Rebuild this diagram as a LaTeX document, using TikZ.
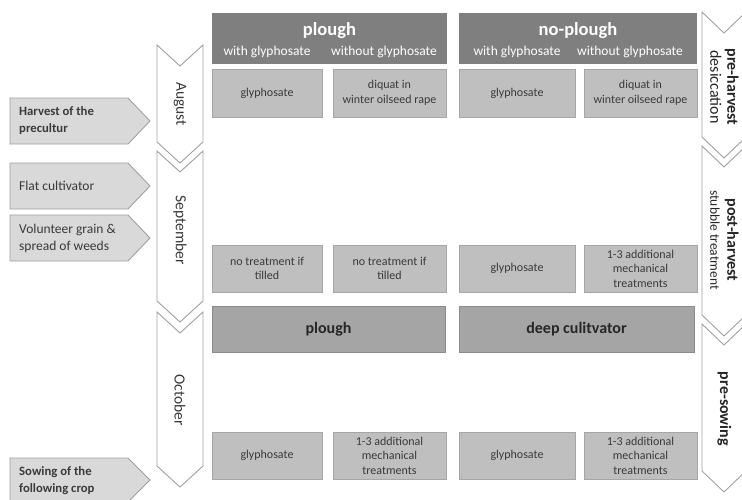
\documentclass[tikz,border=0pt]{standalone}
\usepackage{fontspec}
\setmainfont{Carlito}
\usepackage{tikz}
\usetikzlibrary{calc}
\usepackage{xcolor}

\definecolor{headgrey}{HTML}{7F7F7F}
\definecolor{boxgrey}{HTML}{BFBFBF}
\definecolor{boxline}{HTML}{A6A6A6}
\definecolor{midgrey}{HTML}{A5A5A5}
\definecolor{midline}{HTML}{8C8C8C}
\definecolor{flaggrey}{HTML}{D9D9D9}
\definecolor{linegrey}{HTML}{A0A0A0}
\definecolor{textgrey}{HTML}{3A3A3A}
\definecolor{darktext}{HTML}{262626}

% chevron: x left, x right, y top, y bottom of the sides, depth of the point
\newcommand{\chevron}[5]{%
  \draw[chevronline] (#1,#3) -- ({(#1+#2)/2},{#3+#5}) -- (#2,#3) -- (#2,#4)
    -- ({(#1+#2)/2},{#4+#5}) -- (#1,#4) -- cycle;}
% flag pointing right: y top, y bottom
\newcommand{\stageflag}[2]{%
  \draw[flagline] (10,#1) -- (128,#1) -- (150,{(#1+#2)/2}) -- (128,#2) -- (10,#2) -- cycle;}

\begin{document}
\begin{tikzpicture}[x=1pt,y=-1pt,
head/.style={fill=headgrey,inner sep=0pt,minimum height=51pt},
headtitle/.style={text=white,font=\bfseries\fontsize{18.5}{20}\selectfont},
headsub/.style={text=white,font=\fontsize{13.5}{15}\selectfont},
cell/.style={draw=boxline,fill=boxgrey,text=textgrey,inner sep=0pt,align=center,
  minimum height=47pt,font=\fontsize{12}{14.6}\selectfont},
midcell/.style={draw=midline,fill=midgrey,text=darktext,inner sep=0pt,
  minimum height=46pt,font=\bfseries\fontsize{16}{19}\selectfont},
chevronline/.style={draw=linegrey,fill=white,line width=0.9pt},
flagline/.style={draw=linegrey,fill=flaggrey,line width=0.9pt},
flagtext/.style={anchor=west,align=left,text=textgrey,inner sep=0pt,
  font=\fontsize{13.5}{17}\selectfont},
flagbold/.style={flagtext,font=\bfseries\fontsize{12.7}{17}\selectfont},
month/.style={rotate=-90,text=textgrey,font=\fontsize{15.5}{18}\selectfont},
phase/.style={rotate=-90,align=center,text=darktext,font=\fontsize{16}{17}\selectfont}]
\useasboundingbox (0,0) rectangle (742,499);
\clip (0,0) rectangle (742,499);

% stages on the left
\stageflag{98}{144}
\stageflag{163}{209}
\stageflag{215}{261}
\stageflag{458}{502}
\node[flagbold] (harvest) at (19,121) {Harvest of the\\precultur};
\node[flagtext] (flat) at (19,186) {Flat cultivator};
\node[flagtext] (volunteer) at (19,238) {Volunteer grain \&\\spread of weeds};
\node[flagbold] (sowing) at (19,481) {Sowing of the\\following crop};

% months
\chevron{157}{203}{45}{142}{21}
\chevron{157}{203}{151}{301}{21}
\chevron{157}{203}{312}{466}{21}
\node[month] (aug) at (180,104) {August};
\node[month] (sep) at (180,230) {September};
\node[month] (oct) at (180,400) {October};

% phases on the right
\chevron{702}{746}{12}{137}{21}
\chevron{702}{746}{146}{315}{21}
\chevron{702}{746}{324}{471}{21}
\node[phase] (preharv) at (724.5,87) {\textbf{pre-harvest}\\desiccation};
\node[phase] (postharv) at (724.5,240) {\textbf{post-harvest}\\{\fontsize{13.5}{17}\selectfont stubble treatment}};
\node[phase] (presow) at (724.5,409) {\textbf{pre-sowing}};

% headers
\node[head,minimum width=235pt] (plough) at (329.5,38.5) {};
\node[headtitle] (ploughtitle) at (329.5,31) {plough};
\node[headsub] (pwith) at (267,52) {with glyphosate};
\node[headsub] (pwithout) at (384,52) {without glyphosate};
\node[head,minimum width=238pt] (noplough) at (578,38.5) {};
\node[headtitle] (noploughtitle) at (578,31) {no-plough};
\node[headsub] (nwith) at (517,52) {with glyphosate};
\node[headsub] (nwithout) at (630,52) {without glyphosate};

% August
\node[cell,minimum width=110pt,minimum height=48pt] (pg1) at (267,93) {glyphosate};
\node[cell,minimum width=113pt,minimum height=48pt] (pw1) at (389.5,93) {diquat in\\winter oilseed rape};
\node[cell,minimum width=116pt,minimum height=48pt] (ng1) at (517,93) {glyphosate};
\node[cell,minimum width=113pt,minimum height=48pt] (nw1) at (640.5,93) {diquat in\\winter oilseed rape};

% September
\node[cell,minimum width=110pt] (pg2) at (267,268.5) {no treatment if\\tilled};
\node[cell,minimum width=113pt] (pw2) at (389.5,268.5) {no treatment if\\tilled};
\node[cell,minimum width=116pt] (ng2) at (517,268.5) {glyphosate};
\node[cell,minimum width=113pt] (nw2) at (640.5,268.5) {1-3 additional\\mechanical\\treatments};

% tillage
\node[midcell,minimum width=233pt] (ploughrow) at (328.5,329) {plough};
\node[midcell,minimum width=235pt] (deeprow) at (576.5,329) {deep culitvator};

% October
\node[cell,minimum width=110pt] (pg3) at (267,455.5) {glyphosate};
\node[cell,minimum width=113pt] (pw3) at (389.5,455.5) {1-3 additional\\mechanical\\treatments};
\node[cell,minimum width=116pt] (ng3) at (517,455.5) {glyphosate};
\node[cell,minimum width=113pt] (nw3) at (640.5,455.5) {1-3 additional\\mechanical\\treatments};
\end{tikzpicture}
\end{document}
